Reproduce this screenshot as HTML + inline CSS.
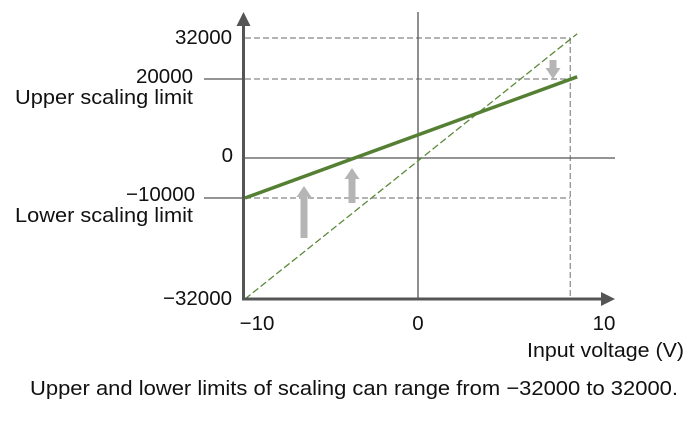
<!DOCTYPE html>
<html><head><meta charset="utf-8"><style>
html,body{margin:0;padding:0;background:#fff;}
svg text{font-family:"Liberation Sans",Arial,sans-serif;fill:#111;}
</style></head><body>
<svg id="chart" width="700" height="420" viewBox="0 0 700 420" xmlns="http://www.w3.org/2000/svg">
<g id="g"></g>
</svg>
<script>
const yTickValues=[32000,20000,0,-10000,-32000];
const yTickLabels=["32000","20000","0","\u221210000","\u221232000"];
const xTickValues=[-10,0,10];
const xTickLabels=["\u221210","0","10"];
const scaledStart=[-10,-10000];
const scaledEnd=[9.2,20638];
const defaultStart=[-10,-32000];
const defaultEnd=[9.2,33200];
const maxVoltage=8.8;

const yMap=[[-32000,299],[-10000,198],[0,158],[20000,79],[32000,38],[40000,10]];
function ys(v){for(let i=0;i<yMap.length-1;i++){const a=yMap[i],b=yMap[i+1];if(v<=b[0]||i==yMap.length-2){return a[1]+(v-a[0])/(b[0]-a[0])*(b[1]-a[1]);}}}
function xs(v){return 418+v*17.3;}

const NS="http://www.w3.org/2000/svg";
const g=document.getElementById('g');
function el(t,a,txt){const e=document.createElementNS(NS,t);for(const k in a)e.setAttribute(k,a[k]);if(txt!==undefined)e.textContent=txt;g.appendChild(e);return e;}

const x0=xs(-10),xr=615,yb=ys(-32000),yt=12,xm=xs(maxVoltage);
let e;
e=el('line',{x1:x0,y1:ys(32000),x2:xm,y2:ys(32000),stroke:'#888','stroke-width':1.2,'stroke-dasharray':'6,3'});

e=el('line',{x1:x0,y1:ys(20000),x2:xm,y2:ys(20000),stroke:'#888','stroke-width':1.2,'stroke-dasharray':'6,3'});

e=el('line',{x1:x0,y1:ys(-10000),x2:xm,y2:ys(-10000),stroke:'#888','stroke-width':1.2,'stroke-dasharray':'6,3'});

e=el('line',{x1:xm,y1:ys(32000),x2:xm,y2:yb,stroke:'#888','stroke-width':1.2,'stroke-dasharray':'6,3'});

e=el('line',{x1:x0,y1:ys(0),x2:xr,y2:ys(0),stroke:'#555','stroke-width':1.3});

e=el('line',{x1:xs(0),y1:yt,x2:xs(0),y2:yb,stroke:'#555','stroke-width':1.3});

e=el('line',{x1:204,y1:ys(20000),x2:x0,y2:ys(20000),stroke:'#555','stroke-width':1.3});

e=el('line',{x1:204,y1:ys(-10000),x2:x0,y2:ys(-10000),stroke:'#555','stroke-width':1.3});

e=el('line',{x1:xs(defaultStart[0]),y1:ys(defaultStart[1]),x2:xs(defaultEnd[0]),y2:ys(defaultEnd[1]),stroke:'#5a8a3a','stroke-width':1.3,'stroke-dasharray':'7,3'});

e=el('line',{x1:xs(scaledStart[0]),y1:ys(scaledStart[1]),x2:xs(scaledEnd[0]),y2:ys(scaledEnd[1]),stroke:'#558033','stroke-width':3.5});

function arrow(name,x,yTail,yTip){const d=yTip<yTail?1:-1;const hh=11*d;
 const p=`M${x-3.5},${yTail} L${x-3.5},${yTip+hh} L${x-7.5},${yTip+hh} L${x},${yTip} L${x+7.5},${yTip+hh} L${x+3.5},${yTip+hh} L${x+3.5},${yTail} Z`;
 const a=el('path',{d:p,fill:'#b5b5b5'});}
arrow('shift-arrow-left',304,238,186);
arrow('shift-arrow-middle',352,203,168);
arrow('shift-arrow-right',553,60,79);
e=el('line',{x1:x0,y1:yb,x2:xr-10,y2:yb,stroke:'#555','stroke-width':3});

e=el('path',{d:`M${xr},${yb} L${xr-14},${yb-7} L${xr-14},${yb+7} Z`,fill:'#555'});

e=el('line',{x1:x0-1.5,y1:yb+1.5,x2:x0-1.5,y2:yt+10,stroke:'#555','stroke-width':3});

e=el('path',{d:`M${x0-1.5},${yt} L${x0-8.5},${yt+14} L${x0+5.5},${yt+14} Z`,fill:'#555'});

const yLabelRight=[232,193,233,195,232];
const yLabelDy=[6,4,4,3,6];
for(let i=0;i<yTickValues.length;i++){
 const t=el('text',{x:yLabelRight[i],y:ys(yTickValues[i])+yLabelDy[i],'text-anchor':'end','font-size':20.5},yTickLabels[i]);
 
 
}
e=el('text',{x:193,y:104,'text-anchor':'end','font-size':20.5,textLength:178,lengthAdjust:'spacingAndGlyphs'},'Upper scaling limit');

e=el('text',{x:193,y:222,'text-anchor':'end','font-size':20.5,textLength:178,lengthAdjust:'spacingAndGlyphs'},'Lower scaling limit');

const xOff=[12,0,13];
for(let i=0;i<xTickValues.length;i++){
 const t=el('text',{x:xs(xTickValues[i])+xOff[i],y:330,'text-anchor':'middle','font-size':20.5},xTickLabels[i]);
 
 
}
e=el('text',{x:684,y:357,'text-anchor':'end','font-size':20.5,textLength:157,lengthAdjust:'spacingAndGlyphs'},'Input voltage (V)');

e=el('text',{x:30,y:395,'font-size':20.5,textLength:648,lengthAdjust:'spacingAndGlyphs'},'Upper and lower limits of scaling can range from \u221232000 to 32000.');

</script>
</body></html>
